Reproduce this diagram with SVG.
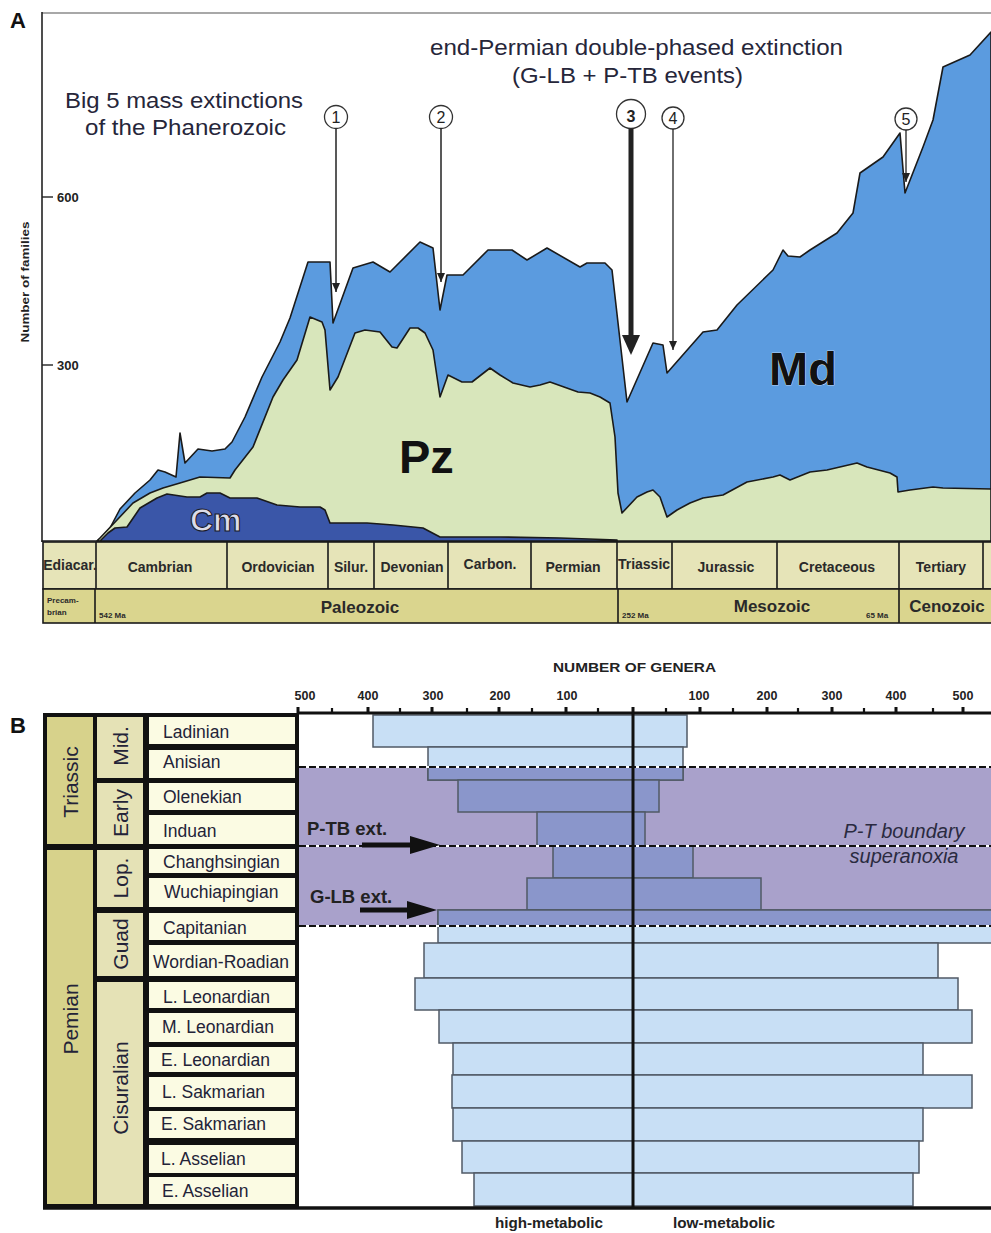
<svg xmlns="http://www.w3.org/2000/svg" width="991" height="1233" viewBox="0 0 991 1233">
<style>
text{font-family:"Liberation Sans",Arial,Helvetica,sans-serif;}
.lbl{font-weight:bold;fill:#111;}
.note{font-size:22px;fill:#26263a;}
.tick{font-size:13px;font-weight:bold;fill:#222;}
.ts{font-size:14px;font-weight:bold;fill:#2a2a2a;text-anchor:middle;}
.tsb{font-size:17px;font-weight:bold;fill:#2a2a2a;text-anchor:middle;}
.tiny{font-size:8px;font-weight:bold;fill:#2a2a2a;}
.cell{stroke:none;}
.stage{font-size:17.5px;fill:#232338;}
.vert{font-size:21px;fill:#232338;text-anchor:middle;}
.bar{fill:#c8dff5;stroke:#505a66;stroke-width:1.5;}
.barD{fill:#8a96cb;stroke:#505a66;stroke-width:1.5;}
.circ{fill:#fff;stroke:#333;stroke-width:1.3;}
.num{font-size:16px;fill:#222;text-anchor:middle;}
.ax{font-size:12.5px;font-weight:bold;fill:#222;text-anchor:middle;}
.dash{stroke:#111;stroke-width:2;stroke-dasharray:7 3;fill:none;}
.dashbg{stroke:#fff;stroke-width:2;fill:none;}
</style>
<defs>
<marker id="ah" markerUnits="userSpaceOnUse" markerWidth="9" markerHeight="8" refX="10" refY="5" orient="auto" viewBox="0 0 10 10" preserveAspectRatio="none">
<path d="M0,0 L10,5 L0,10 Z" fill="#222"/>
</marker>
</defs>
<rect x="0" y="0" width="991" height="1233" fill="#fff"/>

<!-- PANEL A -->
<g id="panelA-frame">
<text x="10" y="28" class="lbl" font-size="22">A</text>
<line x1="42" y1="13" x2="991" y2="13" stroke="#a8a8a8" stroke-width="2"/>
<line x1="42" y1="12" x2="42" y2="542" stroke="#222" stroke-width="1.6"/>
<line x1="42" y1="197" x2="53" y2="197" stroke="#222" stroke-width="1.4"/>
<line x1="42" y1="365" x2="53" y2="365" stroke="#222" stroke-width="1.4"/>
<text x="57" y="202" class="tick">600</text>
<text x="57" y="370" class="tick">300</text>
<text transform="translate(29,282) rotate(-90)" font-size="11" font-weight="bold" fill="#222" text-anchor="middle" textLength="121" lengthAdjust="spacingAndGlyphs">Number of families</text>
</g>

<g id="panelA-areas" stroke="#1a1a1a" stroke-width="1.6" stroke-linejoin="round">
<polygon id="area-Md" fill="#5b9bdf" points="42,541 97,541 104,535 110,528 120,509 135,493 150,480 158,470 165,472 176,477 180,433 185,463 198,449 212,451 225,449 232,442 245,417 262,377 280,342 290,318 308,262 330,262 333,323 353,268 373,262 390,272 420,242 433,248 440,310 447,275 463,275 488,250 512,250 527,260 547,248 580,267 587,263 605,263 612,270 627,402 653,343 663,345 667,373 703,332 717,330 737,305 773,270 783,250 788,256 800,257 810,250 837,233 853,213 860,173 883,157 900,133 905,193 923,147 933,120 943,67 970,55 991,32 991,541"/>
<polygon id="area-Pz" fill="#d8e6bb" points="97,541 100,538 117,520 133,503 150,493 163,488 180,483 200,477 230,478 235,470 253,447 273,397 283,380 297,360 310,317 322,322 325,330 330,390 338,377 355,333 365,330 380,332 392,347 397,348 410,328 418,328 425,333 433,350 440,397 448,375 462,382 472,382 490,368 500,375 513,383 530,387 540,385 550,382 578,392 590,393 600,397 610,403 615,437 618,493 622,513 637,497 647,492 653,490 660,497 667,517 677,510 690,503 703,498 723,495 747,482 773,477 780,475 790,480 810,472 827,470 857,463 867,467 890,473 897,477 898,492 910,490 933,487 943,488 991,489 991,541"/>
<polygon id="area-Cm" fill="#3a56a8" points="100,541 108,533 115,528 127,527 140,508 157,498 167,494 187,497 200,497 207,493 220,493 230,498 257,498 277,505 300,507 320,507 325,510 330,523 367,523 393,525 423,528 440,537 500,537 560,538 617,540 617,541"/>
</g>

<g id="panelA-labels">
<text x="190" y="531" font-size="32" font-weight="bold" fill="#dcdce8" stroke="#1a1a2a" stroke-width="1.1">Cm</text>
<text x="399" y="473" font-size="47" font-weight="bold" fill="#111">Pz</text>
<text x="769" y="385" font-size="47" font-weight="bold" fill="#111" stroke="#fff" stroke-width="0.6" paint-order="stroke">Md</text>
<text x="184" y="108" class="note" text-anchor="middle" textLength="238" lengthAdjust="spacingAndGlyphs">Big 5 mass extinctions</text>
<text x="185.5" y="135" class="note" text-anchor="middle" textLength="201" lengthAdjust="spacingAndGlyphs">of the Phanerozoic</text>
<text x="636.5" y="55" class="note" text-anchor="middle" textLength="413" lengthAdjust="spacingAndGlyphs">end-Permian double-phased extinction</text>
<text x="627.5" y="83" class="note" text-anchor="middle" textLength="231" lengthAdjust="spacingAndGlyphs">(G-LB + P-TB events)</text>
</g>

<g id="extinction-markers">
<g id="ext1"><circle cx="336" cy="117" r="11.5" class="circ"/><text x="336" y="123" class="num">1</text></g>
<g id="ext2"><circle cx="441" cy="117" r="11.5" class="circ"/><text x="441" y="123" class="num">2</text></g>
<g id="ext3"><circle cx="631" cy="114" r="14.5" class="circ" stroke-width="2.2"/><text x="631" y="122" class="num" font-size="22" font-weight="bold">3</text></g>
<g id="ext4"><circle cx="673" cy="118" r="11" class="circ"/><text x="673" y="124" class="num">4</text></g>
<g id="ext5"><circle cx="906" cy="119" r="11" class="circ"/><text x="906" y="125" class="num">5</text></g>
</g>

<g id="connectors-A" stroke="#222" fill="#222">
<line x1="336" y1="128.5" x2="336" y2="292" stroke-width="1.5" marker-end="url(#ah)"/>
<line x1="441" y1="128.5" x2="441" y2="282" stroke-width="1.5" marker-end="url(#ah)"/>
<line x1="631" y1="128.5" x2="631" y2="338" stroke-width="5"/>
<polygon points="622,335 640,335 631,355" stroke="none"/>
<line x1="673" y1="129" x2="673" y2="350" stroke-width="1.3" marker-end="url(#ah)"/>
<line x1="906" y1="130" x2="906" y2="182" stroke-width="1.3" marker-end="url(#ah)"/>
</g>

<g id="timescale" stroke="#1a1a1a" stroke-width="1.6">
<rect x="43" y="542" width="950" height="47" fill="#e6e4b8"/>
<rect x="43" y="589" width="950" height="34" fill="#dad58e"/>
<path d="M96,542V589 M227,542V589 M328,542V589 M374,542V589 M448,542V589 M531,542V589 M617,542V589 M672,542V589 M777,542V589 M899,542V589 M983,542V589 M95,589V623 M618,589V623 M899,589V623" fill="none"/>
</g>
<g id="timescale-text">
<text x="70" y="570" class="ts" font-size="10">Ediacar.</text>
<text x="160" y="572" class="ts">Cambrian</text>
<text x="278" y="572" class="ts">Ordovician</text>
<text x="351" y="572" class="ts" font-size="11.5">Silur.</text>
<text x="412" y="572" class="ts">Devonian</text>
<text x="490" y="569" class="ts">Carbon.</text>
<text x="573" y="572" class="ts">Permian</text>
<text x="644" y="569" class="ts" font-size="12">Triassic</text>
<text x="726" y="572" class="ts" font-size="15">Jurassic</text>
<text x="837" y="572" class="ts" font-size="15">Cretaceous</text>
<text x="941" y="572" class="ts" font-size="15">Tertiary</text>
<text x="47" y="603" class="tiny">Precam-</text>
<text x="47" y="615" class="tiny">brian</text>
<text x="99" y="618" class="tiny">542 Ma</text>
<text x="360" y="613" class="tsb">Paleozoic</text>
<text x="622" y="618" class="tiny">252 Ma</text>
<text x="772" y="612" class="tsb">Mesozoic</text>
<text x="866" y="618" class="tiny">65 Ma</text>
<text x="947" y="612" class="tsb">Cenozoic</text>
</g>

<!-- PANEL B -->
<g id="panelB-labels">
<text x="10" y="733" class="lbl" font-size="22">B</text>
<text x="634.5" y="672" font-size="13" font-weight="bold" fill="#222" text-anchor="middle" textLength="163" lengthAdjust="spacingAndGlyphs">NUMBER OF GENERA</text>
<text x="305" y="700" class="ax">500</text>
<text x="368" y="700" class="ax">400</text>
<text x="433" y="700" class="ax">300</text>
<text x="500" y="700" class="ax">200</text>
<text x="567" y="700" class="ax">100</text>
<text x="699" y="700" class="ax">100</text>
<text x="767" y="700" class="ax">200</text>
<text x="832" y="700" class="ax">300</text>
<text x="896" y="700" class="ax">400</text>
<text x="963" y="700" class="ax">500</text>
<text x="549" y="1228" font-size="14" font-weight="bold" fill="#222" text-anchor="middle" textLength="108" lengthAdjust="spacingAndGlyphs">high-metabolic</text>
<text x="724" y="1228" font-size="14" font-weight="bold" fill="#222" text-anchor="middle" textLength="102" lengthAdjust="spacingAndGlyphs">low-metabolic</text>
</g>

<g id="superanoxia-zone">
<rect x="299" y="767" width="692" height="159" fill="#a9a1cb"/>
</g>

<g id="bars">
<rect id="bar-ladinian" x="373" y="715" width="314" height="32" class="bar"/>
<rect id="bar-anisian" x="428" y="747" width="255" height="33" class="bar"/>
<rect x="428" y="767" width="255" height="13" class="barD"/>
<rect id="bar-olenekian" x="458" y="780" width="201" height="32" class="barD"/>
<rect id="bar-induan" x="537" y="812" width="108" height="34" class="barD"/>
<rect id="bar-changhsingian" x="553" y="846" width="140" height="32" class="barD"/>
<rect id="bar-wuchiapingian" x="527" y="878" width="234" height="32" class="barD"/>
<rect id="bar-capitanian" x="438" y="910" width="560" height="33" class="bar"/>
<rect x="438" y="910" width="560" height="16" class="barD"/>
<rect id="bar-wordian" x="424" y="943" width="514" height="35" class="bar"/>
<rect id="bar-lleonardian" x="415" y="978" width="543" height="32" class="bar"/>
<rect id="bar-mleonardian" x="439" y="1010" width="533" height="33" class="bar"/>
<rect id="bar-eleonardian" x="453" y="1043" width="470" height="32" class="bar"/>
<rect id="bar-lsakmarian" x="452" y="1075" width="520" height="33" class="bar"/>
<rect id="bar-esakmarian" x="453" y="1108" width="470" height="33" class="bar"/>
<rect id="bar-lasselian" x="462" y="1141" width="457" height="32" class="bar"/>
<rect id="bar-easselian" x="474" y="1173" width="439" height="33" class="bar"/>
</g>

<g id="dashed-boundaries">
<path d="M299,767H991 M299,846H991 M299,926H991" class="dashbg"/>
<path d="M299,767H991 M299,846H991 M299,926H991" class="dash"/>
</g>

<g id="zone-text">
<text x="307" y="835" font-size="18.5" font-weight="bold" fill="#222">P-TB ext.</text>
<text x="310" y="903" font-size="18.5" font-weight="bold" fill="#222">G-LB ext.</text>
<text x="904" y="838" font-size="20" font-style="italic" fill="#2a2a40" text-anchor="middle">P-T boundary</text>
<text x="904" y="863" font-size="20" font-style="italic" fill="#2a2a40" text-anchor="middle">superanoxia</text>
</g>

<g id="connectors-B" fill="#111" stroke="#111">
<line x1="362" y1="845" x2="414" y2="845" stroke-width="5"/>
<polygon points="410,836 440,845 410,854" stroke="none"/>
<line x1="360" y1="910" x2="411" y2="910" stroke-width="5"/>
<polygon points="407,901 437,910 407,919" stroke="none"/>
</g>

<g id="axes-B" stroke="#111">
<line x1="298" y1="713" x2="991" y2="713" stroke-width="3"/>
<line x1="633" y1="713" x2="633" y2="1208" stroke-width="3"/>
<line x1="43" y1="1208" x2="991" y2="1208" stroke-width="3.5"/>
<path d="M298,713V707 M368,713V707 M432,713V707 M499,713V707 M566,713V707 M633,713V707 M700,713V707 M767,713V707 M832,713V707 M896,713V707 M963,713V707" stroke-width="3" fill="none"/>
<path d="M332,713V708 M400,713V708 M467,713V708 M532,713V708 M598,713V708 M666,713V708 M733,713V708 M798,713V708 M864,713V708 M933,713V708" stroke-width="2.2" fill="none"/>
</g>

<g id="strat-table">
<rect x="43" y="713" width="256" height="496" fill="#111"/>
<g id="col-period">
<rect x="47" y="717" width="46" height="127" fill="#d7d28b" class="cell"/>
<rect x="47" y="850" width="46" height="354" fill="#d7d28b" class="cell"/>
</g>
<g id="col-epoch">
<rect x="97" y="717" width="46" height="61" fill="#e5e2b6" class="cell"/>
<rect x="97" y="783" width="46" height="61" fill="#e5e2b6" class="cell"/>
<rect x="97" y="850" width="46" height="57" fill="#e5e2b6" class="cell"/>
<rect x="97" y="913" width="46" height="63" fill="#e5e2b6" class="cell"/>
<rect x="97" y="982" width="46" height="222" fill="#e5e2b6" class="cell"/>
</g>
<g id="col-stage" fill="#fbfbe3">
<rect x="149" y="717" width="146" height="27"/>
<rect x="149" y="750" width="146" height="28"/>
<rect x="149" y="783" width="146" height="27"/>
<rect x="149" y="815" width="146" height="29"/>
<rect x="149" y="849" width="146" height="24"/>
<rect x="149" y="878" width="146" height="29"/>
<rect x="149" y="913" width="146" height="27"/>
<rect x="149" y="945" width="146" height="31"/>
<rect x="149" y="982" width="146" height="26"/>
<rect x="149" y="1013" width="146" height="29"/>
<rect x="149" y="1047" width="146" height="25"/>
<rect x="149" y="1077" width="146" height="30"/>
<rect x="149" y="1111" width="146" height="27"/>
<rect x="149" y="1145" width="146" height="28"/>
<rect x="149" y="1177" width="146" height="27"/>
</g>
<g id="stage-text" class="stage">
<text x="163" y="738" class="stage">Ladinian</text>
<text x="163" y="768" class="stage">Anisian</text>
<text x="163" y="803" class="stage">Olenekian</text>
<text x="163" y="837" class="stage">Induan</text>
<text x="163" y="868" class="stage">Changhsingian</text>
<text x="164" y="898" class="stage">Wuchiapingian</text>
<text x="163" y="934" class="stage">Capitanian</text>
<text x="153" y="968" class="stage">Wordian-Roadian</text>
<text x="163" y="1003" class="stage">L. Leonardian</text>
<text x="162" y="1033" class="stage">M. Leonardian</text>
<text x="161" y="1066" class="stage">E. Leonardian</text>
<text x="162" y="1098" class="stage">L. Sakmarian</text>
<text x="161" y="1130" class="stage">E. Sakmarian</text>
<text x="161" y="1165" class="stage">L. Asselian</text>
<text x="162" y="1197" class="stage">E. Asselian</text>
</g>
<g id="vertical-text">
<text transform="translate(78,782) rotate(-90)" class="vert">Triassic</text>
<text transform="translate(78,1019) rotate(-90)" class="vert">Pemian</text>
<text transform="translate(128,746) rotate(-90)" class="vert">Mid.</text>
<text transform="translate(128,813) rotate(-90)" class="vert">Early</text>
<text transform="translate(128,878) rotate(-90)" class="vert">Lop.</text>
<text transform="translate(128,944) rotate(-90)" class="vert">Guad</text>
<text transform="translate(128,1088) rotate(-90)" class="vert">Cisuralian</text>
</g>
</g>
</svg>
